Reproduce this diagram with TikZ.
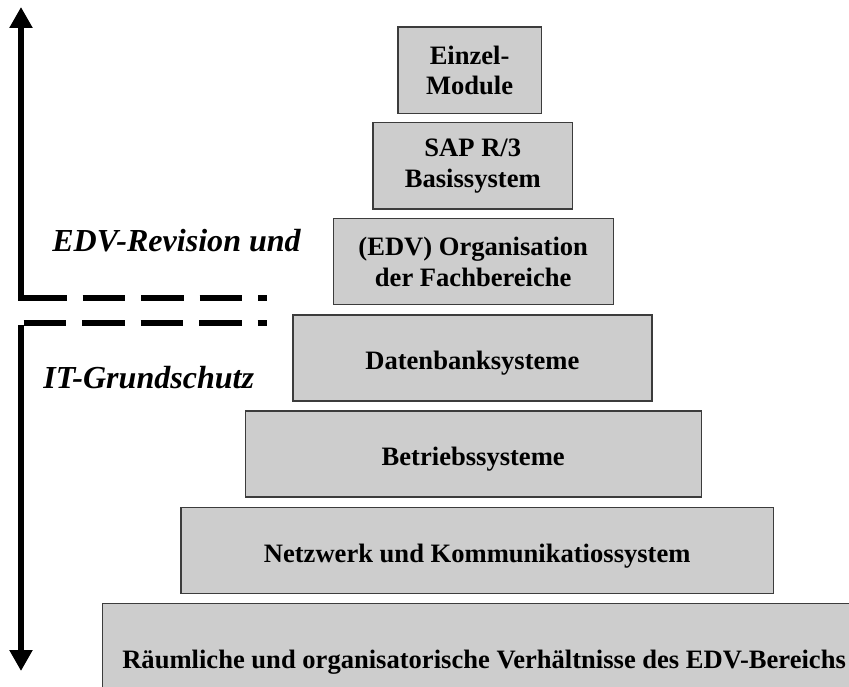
\documentclass[tikz,border=0pt]{standalone}
\usepackage{fontspec}
\setmainfont{Liberation Serif}
\usetikzlibrary{arrows.meta}
\definecolor{c1}{HTML}{000000}
\definecolor{c2}{HTML}{3C3C3C}
\definecolor{c3}{HTML}{CDCDCD}

\begin{document}
\begin{tikzpicture}[
    every node/.style={font=\fontsize{18.9}{21.8}\selectfont\bfseries, text=c1},
    lab/.style={font=\fontsize{22.8}{26}\selectfont\bfseries\itshape, text=c1,
                inner sep=0pt},
    lvl/.style={rectangle, draw=c2, fill=c3, line width=1pt, align=center,
                inner sep=0pt, minimum height=2.16cm},
    lvlone/.style={lvl, minimum height=0pt, text height=1.375cm, text depth=0.775cm},
    bar/.style={c1, line width=0.15cm},
    brk/.style={c1, line width=0.15cm, dash pattern=on 1.0625cm off 0.4cm},
    arrbar/.style={-{Triangle[length=0.525cm, width=0.55cm]}},
]

\useasboundingbox (0,0) rectangle (21.225, 17.15);
\clip (0,0) rectangle (21.225, 17.15);

% ================================================================ pyramid
\node[lvl, minimum width=3.58cm]  (einzel) at (11.74, 15.39) {Einzel-\\Module};
\node[lvl, minimum width=4.99cm]  (sap)    at (11.82, 13.00) {SAP R/3\\Basissystem};
\node[lvl, minimum width=7.00cm]  (orga)   at (11.83, 10.61)
     {(EDV) Organisation\\der Fachbereiche};
\node[lvlone, minimum width=8.98cm]  (daten)   at (11.81, 8.20) {Datenbanksysteme};
\node[lvlone, minimum width=11.40cm] (betrieb) at (11.83, 5.80) {Betriebssysteme};
\node[lvlone, minimum width=14.80cm] (netz)    at (11.93, 3.39)
     {Netzwerk und Kommunikatiossystem};
\node[lvl, anchor=north west, minimum height=0pt, inner xsep=0.5cm,
      text width=19cm, align=flush left, text height=1.62cm, text depth=1cm] (raum)
     at (2.54, 2.08) {Räumliche und organisatorische Verhältnisse des EDV-Bereichs};

% ================================================================ left side
\node[lab, anchor=base west] (rev)   at (1.30, 10.86) {EDV-Revision und};
\node[lab, anchor=base west] (grund) at (1.075, 7.44) {IT-Grundschutz};

\coordinate (revtop)    at (0.525, 16.975);
\coordinate (revcorner) at (0.525, 9.70);
\coordinate (revstart)  at (0.60, 9.70);
\coordinate (revend)    at (6.675, 9.70);

\coordinate (itstart)   at (0.59, 9.0625);
\coordinate (itend)     at (6.675, 9.0625);
\coordinate (itcorner)  at (0.525, 9.025);
\coordinate (itbottom)  at (0.525, 0.375);

\draw[bar, arrbar, line cap=rect] (revcorner) -- (revtop);
\draw[brk] (revstart) -- (revend);

\draw[brk] (itstart) -- (itend);
\draw[bar, arrbar] (itcorner) -- (itbottom);

\end{tikzpicture}
\end{document}
